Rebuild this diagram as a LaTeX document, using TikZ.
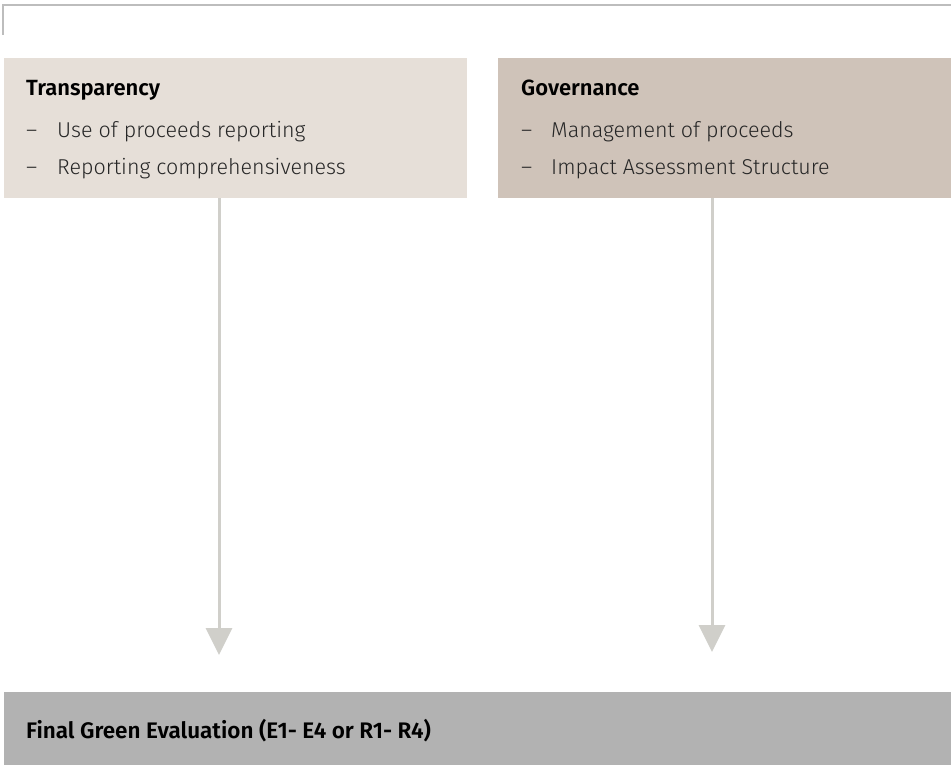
\documentclass[tikz,border=0pt]{standalone}
\usepackage{fontspec}
\setmainfont{Fira Sans}[UprightFont=* Light, BoldFont=* SemiBold]
\usetikzlibrary{arrows.meta}
\definecolor{frame}{HTML}{BDBDBD}
\definecolor{boxa}{HTML}{E6DFD8}
\definecolor{boxb}{HTML}{CFC3B9}
\definecolor{boxc}{HTML}{B2B2B2}
\definecolor{arr}{HTML}{D0CFCA}
\begin{document}
\begin{tikzpicture}[x=1pt,y=-1pt,
  panel/.style={draw=none,minimum height=140pt,anchor=north west,inner sep=0pt},
  head/.style={anchor=base west,font=\fontsize{22}{26}\selectfont\bfseries,inner sep=0pt},
  item/.style={anchor=base west,font=\fontsize{21.5}{26}\selectfont,text=black!85,inner sep=0pt},
  conn/.style={arr,line width=3pt,-{Triangle[width=26pt,length=27pt]}}]
\useasboundingbox (0,0) rectangle (951,765);
% frame
\draw[frame,line width=2pt] (3,35) -- (3,5) -- (951,5);
% panels
\node[panel,fill=boxa,minimum width=463pt] (t) at (4,58) {};
\node[panel,fill=boxb,minimum width=453pt] (g) at (498,58) {};
\node[anchor=north west,fill=boxc,minimum width=947pt,minimum height=73pt,inner sep=0pt] (f) at (4,692) {};
% texts
\node[head] (th) at (26,96) {Transparency};
\node[item] (t1d) at (26,138) {–};
\node[item] (t1) at (57,138) {Use of proceeds reporting};
\node[item] (t2d) at (26,174.5) {–};
\node[item] (t2) at (57,174.5) {Reporting comprehensiveness};
\node[head] (gh) at (521,96) {Governance};
\node[item] (g1d) at (521,138) {–};
\node[item] (g1) at (551,138) {Management of proceeds};
\node[item] (g2d) at (521,174.5) {–};
\node[item] (g2) at (551,174.5) {Impact Assessment Structure};
\node[head,font=\fontsize{22.5}{26}\selectfont\bfseries] (ft) at (26,738.5) {Final Green Evaluation (E1- E4 or R1- R4)};
% arrows
\coordinate (ta) at (219,655);
\coordinate (ga) at (712,652);
\draw[conn] (t.south -| ta) -- (ta);
\draw[conn] (g.south -| ga) -- (ga);
\end{tikzpicture}
\end{document}
